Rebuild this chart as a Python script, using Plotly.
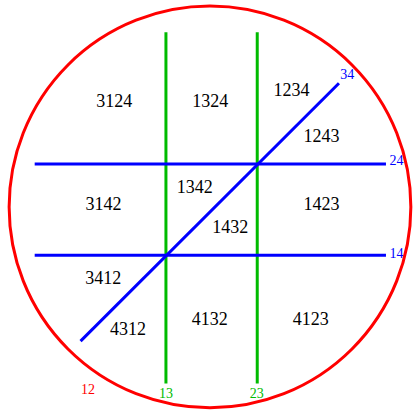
import plotly.graph_objects as go

# Geometry in grid units (origin = centre of the 3x3 grid, one unit = half grid spacing)
vertical_x = [-1.0, 1.0]                 # lines 13 and 23
vertical_y_range = [-3.81, 3.89]
horizontal_y = [1.0, -1.0]               # lines 24 and 14
horizontal_x_range = [-3.875, 3.82]
diagonal_x = [-2.87, 2.79]               # line 34 (y = x)
diagonal_y = [-2.88, 2.77]
circle_center = [-0.035, 0.06]           # line 12 (circle)
circle_radius = 4.40

region_labels = ["3124", "1324", "1234", "1243", "3142", "1342",
                 "1423", "1432", "3412", "4312", "4132", "4123"]
region_x = [-2.135, -0.03, 1.75, 2.41, -2.37, -0.37, 2.41, 0.41, -2.375, -1.83, -0.04, 2.17]
region_y = [2.355, 2.355, 2.58, 1.575, 0.10, 0.46, 0.10, -0.42, -1.535, -2.65, -2.43, -2.43]

line_labels = ["34", "24", "14", "12", "13", "23"]
line_label_x = [2.97, 4.05, 4.05, -2.71, -1.0, 0.99]
line_label_y = [2.94, 1.06, -0.99, -3.95, -4.05, -4.05]
line_label_colors = ["blue", "blue", "blue", "red", "#00bb00", "#00bb00"]

GREEN = "#00bb00"
BLUE = "#0000ff"
RED = "#ff0000"

fig = go.Figure()

# Circle
fig.add_shape(type="circle", xref="x", yref="y",
              x0=circle_center[0] - circle_radius, x1=circle_center[0] + circle_radius,
              y0=circle_center[1] - circle_radius, y1=circle_center[1] + circle_radius,
              line=dict(color=RED, width=3))

for vx in vertical_x:
    fig.add_trace(go.Scatter(x=[vx, vx], y=vertical_y_range, mode="lines",
                             line=dict(color=GREEN, width=3), hoverinfo="skip"))
for hy in horizontal_y:
    fig.add_trace(go.Scatter(x=horizontal_x_range, y=[hy, hy], mode="lines",
                             line=dict(color=BLUE, width=3), hoverinfo="skip"))
fig.add_trace(go.Scatter(x=diagonal_x, y=diagonal_y, mode="lines",
                         line=dict(color=BLUE, width=3), hoverinfo="skip"))

fig.add_trace(go.Scatter(x=region_x, y=region_y, mode="text", text=region_labels,
                         textposition="middle center",
                         textfont=dict(family="Liberation Serif", size=18, color="black"),
                         hoverinfo="skip"))
fig.add_trace(go.Scatter(x=line_label_x, y=line_label_y, mode="text", text=line_labels,
                         textposition="middle center",
                         textfont=dict(family="Liberation Serif", size=14, color=line_label_colors),
                         hoverinfo="skip"))

fig.update_layout(
    width=414, height=412,
    margin=dict(l=0, r=0, t=0, b=0),
    paper_bgcolor="white", plot_bgcolor="white",
    showlegend=False,
    xaxis=dict(range=[-4.635, 4.434], visible=False, fixedrange=True),
    yaxis=dict(range=[-4.432, 4.594], visible=False, fixedrange=True),
)

fig.write_html("out.html", config={"displayModeBar": False},
               post_script="document.body.style.margin='0';document.body.style.overflow='hidden';")
